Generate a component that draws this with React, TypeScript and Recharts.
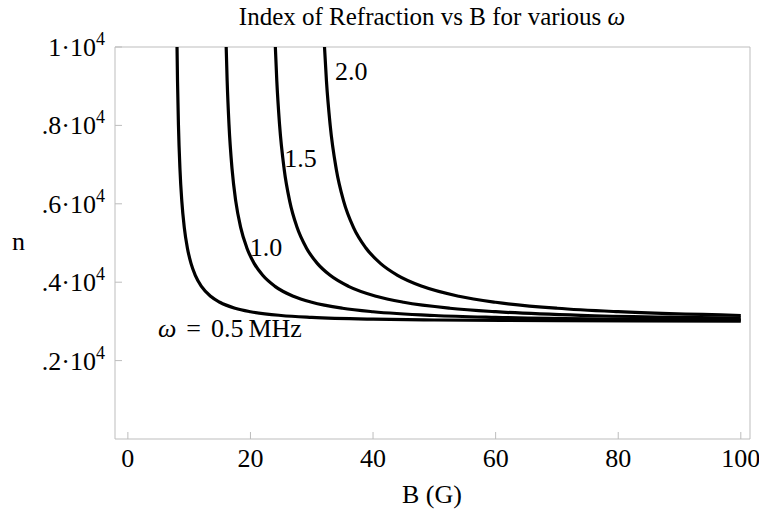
import React from 'react';
import { LineChart, Line, XAxis, YAxis, ReferenceLine, ReferenceDot, Label } from 'recharts';

// ---- data ----
const xTicks = [0, 20, 40, 60, 80, 100];
const yTicks = [2000, 4000, 6000, 8000, 10000];
const yTickMantissa = ['.2', '.4', '.6', '.8', '1'];

const b05 = [8.02, 8.1, 8.25, 8.5, 8.8, 9.2, 9.7, 10.3, 11, 12, 13.5, 15, 17.5, 20, 25, 30, 40, 50, 70, 100];
const n05 = [10000, 9128, 8015, 6882, 6069, 5400, 4880, 4480, 4175, 3894, 3641, 3488, 3336, 3247, 3151, 3103, 3056, 3036, 3018, 3009];

const b10 = [16.04, 16.2, 16.5, 17, 17.6, 18.4, 19.4, 20.6, 22, 24, 27, 30, 35, 40, 50, 60, 80, 100];
const n10 = [10000, 9128, 8015, 6882, 6069, 5400, 4880, 4480, 4175, 3894, 3641, 3488, 3336, 3247, 3151, 3103, 3056, 3036];

const b15 = [24.06, 24.3, 24.75, 25.5, 26.4, 27.6, 29.1, 30.9, 33, 36, 40.5, 45, 52.5, 60, 75, 90, 100];
const n15 = [10000, 9128, 8015, 6882, 6069, 5400, 4880, 4480, 4175, 3894, 3641, 3488, 3336, 3247, 3151, 3103, 3082];

const b20 = [32.08, 32.4, 33, 34, 35.2, 36.8, 38.8, 41.2, 44, 48, 54, 60, 70, 80, 100];
const n20 = [10000, 9128, 8015, 6882, 6069, 5400, 4880, 4480, 4175, 3894, 3641, 3488, 3336, 3247, 3151];

const curveLabels = ['0.5', '1.0', '1.5', '2.0'];
const labelB = [4.9, 19.9, 25.5, 33.8];
const labelN = [2600, 4670, 6940, 9160];

const zip = (bs: number[], ns: number[]) => bs.map((b, i) => ({ b, n: ns[i] }));
const curves = [zip(b05, n05), zip(b10, n10), zip(b15, n15), zip(b20, n20)];

const SERIF = '"Liberation Serif", "Times New Roman", serif';
const FRAME = '#bdbdbd';

const XTick = (props: any) => {
  const { x, y, payload } = props;
  return (
    <g>
      <line x1={x} y1={y} x2={x} y2={y - 7} stroke={FRAME} strokeWidth={1} />
      <text x={x} y={y + 28} textAnchor="middle" fontFamily={SERIF} fontSize={26} fill="#000">
        {payload.value}
      </text>
    </g>
  );
};

const YTick = (props: any) => {
  const { x, y, payload } = props;
  const idx = yTicks.indexOf(payload.value);
  return (
    <g>
      <line x1={x} y1={y} x2={x + 7} y2={y} stroke={FRAME} strokeWidth={1} />
      <text x={x - 10} y={y + 9} textAnchor="end" fontFamily={SERIF} fontSize={26} fill="#000">
        {yTickMantissa[idx]}·10
        <tspan dy={-11} fontSize={18}>4</tspan>
      </text>
    </g>
  );
};

const makeCurveLabel = (i: number) => (p: any) => {
  const vb = p.viewBox || {};
  const x = vb.x ?? 0;
  const y = vb.y ?? 0;
  if (i === 0) {
    return (
      <text x={x} y={y} fontFamily={SERIF} fontSize={26} fill="#000">
        <tspan fontStyle="italic">ω</tspan>
        <tspan dx={10}>=</tspan>
        <tspan dx={10}>{curveLabels[i]}</tspan>
        <tspan dx={5}>MHz</tspan>
      </text>
    );
  }
  return (
    <text x={x} y={y} fontFamily={SERIF} fontSize={26} fill="#000">
      {curveLabels[i]}
    </text>
  );
};

export default function App() {
  return (
    <div style={{ position: 'absolute', left: 0, top: 0, width: 759, height: 519, background: '#fff' }}>
      <svg width={759} height={40} style={{ position: 'absolute', left: 0, top: 0 }}>
        <text x={432} y={25} textAnchor="middle" fontFamily={SERIF} fontSize={25} fill="#000">
          Index of Refraction vs B for various <tspan fontStyle="italic">ω</tspan>
        </text>
      </svg>
      <div style={{ position: 'absolute', left: 0, top: 0 }}>
        <LineChart width={759} height={519} margin={{ top: 47, right: 9, bottom: 30, left: 0 }}>
          <XAxis
            type="number"
            dataKey="b"
            domain={[-2.1, 101.5]}
            ticks={xTicks}
            allowDataOverflow
            height={50}
            tickSize={0}
            tickMargin={0}
            axisLine={{ stroke: FRAME, strokeWidth: 1 }}
            tickLine={false}
            tick={(p: any) => <XTick {...p} />}
            interval={0}
          >
            <Label
              content={() => (
                <text x={432} y={503} textAnchor="middle" fontFamily={SERIF} fontSize={26} fill="#000">
                  B (G)
                </text>
              )}
            />
          </XAxis>
          <YAxis
            type="number"
            dataKey="n"
            domain={[0, 10000]}
            ticks={yTicks}
            allowDataOverflow
            width={115}
            tickSize={0}
            tickMargin={0}
            axisLine={{ stroke: FRAME, strokeWidth: 1 }}
            tickLine={false}
            tick={(p: any) => <YTick {...p} />}
            interval={0}
          >
            <Label
              content={() => (
                <text x={12} y={250} fontFamily={SERIF} fontSize={26} fill="#000">
                  n
                </text>
              )}
            />
          </YAxis>
          <ReferenceLine y={10000} stroke={FRAME} strokeWidth={1} />
          <ReferenceLine x={101.5} stroke={FRAME} strokeWidth={1} />
          {curves.map((c, i) => (
            <Line
              key={i}
              data={c}
              dataKey="n"
              type="monotone"
              stroke="#000"
              strokeWidth={3.2}
              dot={false}
              activeDot={false}
              isAnimationActive={false}
            />
          ))}
          {curveLabels.map((t, i) => (
            <ReferenceDot
              key={t}
              x={labelB[i]}
              y={labelN[i]}
              r={0}
              fill="none"
              stroke="none"
              label={makeCurveLabel(i)}
            />
          ))}
        </LineChart>
      </div>
    </div>
  );
}
